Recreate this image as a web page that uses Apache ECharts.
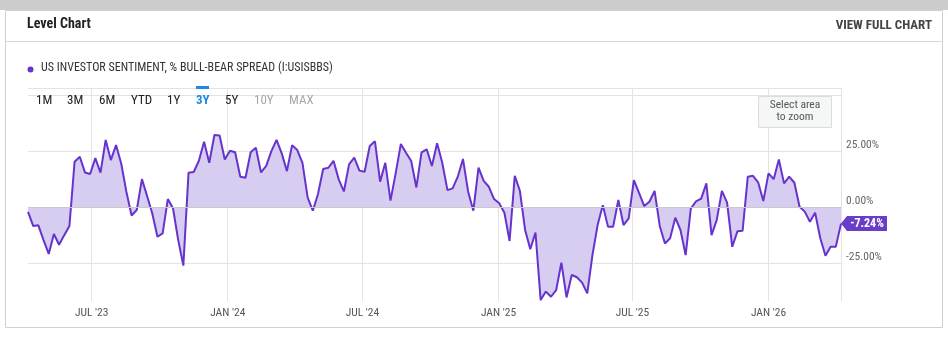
<!DOCTYPE html>
<html>
<head>
<meta charset="utf-8">
<script src="https://cdn.jsdelivr.net/npm/echarts@6/dist/echarts.min.js"></script>
<style>
  html, body { margin: 0; padding: 0; background: #ffffff; }
  #chart { width: 948px; height: 337px; }
</style>
</head>
<body>
<div id="chart"></div>
<script>
// AAII weekly bull-bear spread, one reading per Thursday starting 6 Apr 2023
const firstWeek = Date.UTC(2023, 3, 6);
const WEEK_MS = 7 * 24 * 3600 * 1000;

const spread2023 = [
  -2.0, -8.3, -8.0, -14.6, -20.8, -11.9, -16.7, -12.4, -8.3, 20.4,
  22.6, 15.6, 14.9, 22.0, 15.5, 30.1, 21.1, 27.8, 19.6, 7.0,
  -3.6, -1.2, 12.6, 5.1, -2.7, -13.1, -11.6, 3.7, -0.4, -14.5,
  -26.0, 15.5, 15.8, 20.8, 29.3, 19.9, 32.3, 32.1, 21.4
];
const spread2024 = [
  25.3, 24.6, 13.7, 13.2, 24.6, 26.6, 15.6, 18.5, 25.1, 30.1,
  24.1, 16.2, 27.8, 25.6, 19.9, 4.5, -1.5, 6.0, 17.1, 17.7,
  20.8, 12.5, 7.1, 19.2, 22.2, 16.4, 15.9, 27.4, 29.5, 11.5,
  19.9, 3.0, 15.2, 28.3, 24.4, 20.7, 8.9, 24.6, 25.9, 18.5,
  28.6, 19.9, 7.7, 8.5, 13.7, 21.6, 7.0, -1.5, 17.7, 11.8,
  9.2, 3.7
];
const spread2025 = [
  1.8, -2.4, -15.0, 14.1, 7.3, -10.1, -18.7, -11.2, -41.4, -37.6,
  -39.9, -36.9, -24.7, -40.2, -30.2, -31.2, -33.6, -38.4, -21.3, -7.9,
  1.0, -8.6, -8.6, 3.3, -7.9, -4.9, 12.2, 6.5, 0.6, 2.5,
  7.4, -8.3, -16.1, -13.8, -4.6, -10.1, -21.3, -0.5, 2.7, 3.9,
  10.7, -12.4, -5.7, 7.4, 2.1, -17.6, -10.7, -10.4, 13.7, 14.1,
  11.2, 2.8
];
const spread2026 = [
  15.2, 12.6, 21.4, 10.7, 13.7, 11.0, 0.3, -1.9, -6.4, -2.4,
  -13.8, -21.6, -17.6, -17.6, -7.24
];

const xTickDates = [
  Date.UTC(2023, 6, 1), Date.UTC(2024, 0, 1), Date.UTC(2024, 6, 1),
  Date.UTC(2025, 0, 1), Date.UTC(2025, 6, 1), Date.UTC(2026, 0, 1)
];
const xTickLabels = ["JUL '23", "JAN '24", "JUL '24", "JAN '25", "JUL '25", "JAN '26"];
const yGridValues = [-25, 0, 25, 50];
const yLabelValues = [-25, 0, 25];

const seriesName = 'US INVESTOR SENTIMENT, % BULL-BEAR SPREAD (I:USISBBS)';
const rangeButtons = ['1M', '3M', '6M', 'YTD', '1Y', '3Y', '5Y', '10Y', 'MAX'];
const activeRange = '3Y';
const disabledRanges = ['10Y', 'MAX'];

const allValues = spread2023.concat(spread2024, spread2025, spread2026);
const points = allValues.map((v, i) => [firstWeek + i * WEEK_MS, v]);
const lastPoint = points[points.length - 1];

const LINE = '#6633cc';
const FILL = '#d7cdf0';
const NARROW = "'Liberation Sans Narrow', 'Roboto Condensed', Roboto, sans-serif";

const chart = echarts.init(document.getElementById('chart'), null, { renderer: 'canvas' });

// toolbar button positions (left edges)
const buttonX = [36, 67, 99, 131, 167, 196, 225, 254, 289];
const buttonGraphics = rangeButtons.map((b, i) => ({
  type: 'text',
  left: buttonX[i],
  top: 94,
  z: 10,
  style: {
    text: b,
    font: (b === activeRange ? 'bold ' : '') + '13px ' + NARROW,
    fill: b === activeRange ? '#1e88e5' : (disabledRanges.includes(b) ? '#a8a8a8' : '#222222')
  }
}));

const option = {
  animation: false,
  backgroundColor: '#ffffff',
  grid: { left: 28, top: 88, width: 813, height: 213, containLabel: false },
  xAxis: [{
    type: 'value',
    min: points[0][0],
    max: lastPoint[0],
    axisLine: { show: true, lineStyle: { color: '#e3e3e3', width: 1 } },
    axisTick: { show: false, customValues: xTickDates },
    splitLine: { show: true, lineStyle: { color: '#e3e3e3', width: 1 } },
    axisLabel: {
      customValues: xTickDates,
      formatter: (val) => {
        const k = xTickDates.indexOf(val);
        return k >= 0 ? xTickLabels[k] : '';
      },
      color: '#555555',
      fontFamily: NARROW,
      fontSize: 11.5,
      margin: 6
    }
  }, {
    type: 'value',
    position: 'top',
    min: points[0][0],
    max: lastPoint[0],
    axisLine: { show: true, lineStyle: { color: '#e3e3e3', width: 1 } },
    axisTick: { show: false },
    axisLabel: { show: false },
    splitLine: { show: false }
  }],
  yAxis: {
    type: 'value',
    position: 'right',
    min: -41.8,
    max: 53.3,
    axisLine: { show: true, lineStyle: { color: '#e3e3e3', width: 1 } },
    axisTick: { show: false, customValues: yGridValues },
    splitLine: { show: true, lineStyle: { color: '#e3e3e3', width: 1 } },
    axisLabel: {
      customValues: yLabelValues,
      formatter: (v) => v.toFixed(2) + '%',
      color: '#666666',
      fontFamily: NARROW,
      fontSize: 11.5,
      margin: 5,
      verticalAlign: 'bottom'
    }
  },
  series: [{
    type: 'line',
    name: seriesName,
    data: points,
    showSymbol: false,
    symbol: 'none',
    lineStyle: { color: LINE, width: 2 },
    itemStyle: { color: LINE },
    areaStyle: { color: FILL, opacity: 1 },
    markLine: {
      silent: true,
      symbol: 'none',
      label: { show: false },
      lineStyle: { color: '#c9c9c9', width: 1, type: 'solid' },
      data: [{ yAxis: 0 }]
    },
    markPoint: {
      silent: true,
      symbol: 'path://M0,7.5 L6,0 L46,0 L46,15 L6,15 Z',
      symbolSize: [46, 15],
      symbolOffset: [23, 0],
      itemStyle: { color: '#6a3dc9' },
      label: {
        show: true,
        position: 'inside',
        offset: [3, 0],
        color: '#ffffff',
        fontFamily: NARROW,
        fontWeight: 'bold',
        fontSize: 12,
        formatter: (p) => p.value.toFixed(2) + '%'
      },
      data: [{ coord: lastPoint, value: lastPoint[1] }]
    }
  }],
  graphic: [
    { type: 'rect', shape: { x: 0, y: 0, width: 948, height: 10 }, style: { fill: '#cccccc' }, z: -10 },
    { type: 'rect', shape: { x: 5.5, y: 10.5, width: 937, height: 317 }, style: { fill: 'none', stroke: '#d0d0d0', lineWidth: 1 }, z: -9 },
    { type: 'line', shape: { x1: 6, y1: 41.5, x2: 942, y2: 41.5 }, style: { stroke: '#d9d9d9', lineWidth: 1 } },
    { type: 'text', left: 27, top: 17, style: { text: 'Level Chart', font: 'bold 14px ' + NARROW, fill: '#222222' } },
    { type: 'text', right: 16, top: 19, style: { text: 'VIEW FULL CHART', font: 'bold 13px ' + NARROW, fill: '#444444' } },
    { type: 'circle', shape: { cx: 30.5, cy: 69.5, r: 3 }, style: { fill: LINE } },
    { type: 'text', left: 41, top: 62, style: { text: seriesName, font: '12px ' + NARROW, fill: '#333333' } },
    { type: 'rect', shape: { x: 196, y: 86, width: 13, height: 3 }, style: { fill: '#1e88e5' }, z: 10 },
    ...buttonGraphics,
    { type: 'rect', shape: { x: 758.5, y: 96.5, width: 73, height: 31 }, style: { fill: '#f5f6f6', stroke: '#dcdcdc', lineWidth: 1 }, z: 10 },
    { type: 'text', x: 795, y: 99.5, z: 11, style: { text: 'Select area\nto zoom', align: 'center', verticalAlign: 'top', font: '11.5px ' + NARROW, fill: '#555555', lineHeight: 12 } }
  ]
};

chart.setOption(option);
</script>
</body>
</html>
